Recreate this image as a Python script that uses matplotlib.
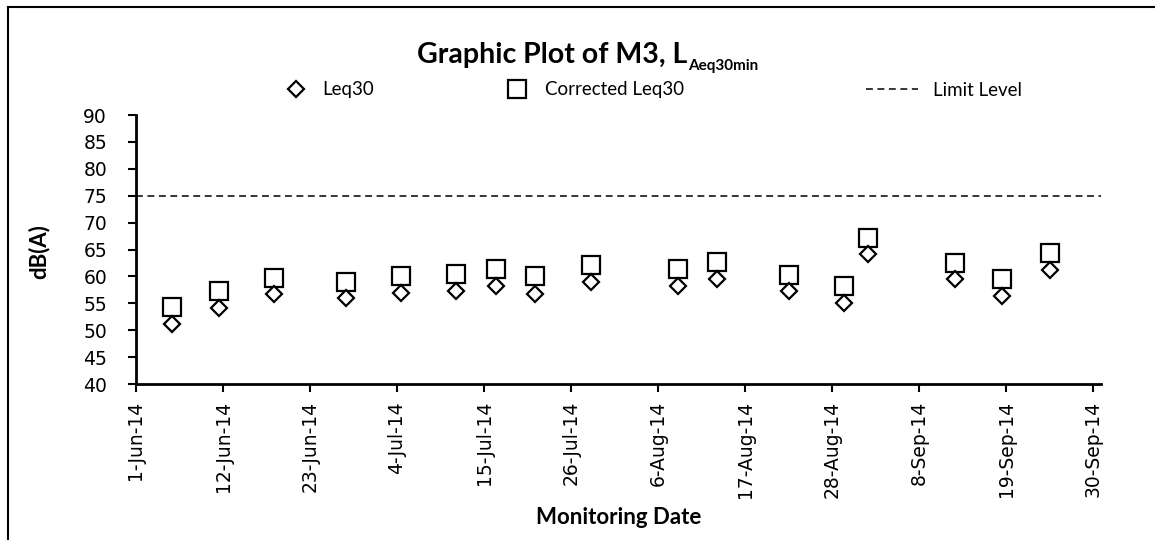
import matplotlib
matplotlib.use('Agg')
import matplotlib.pyplot as plt
import matplotlib.dates as mdates
from matplotlib.ticker import FuncFormatter, FixedLocator
from matplotlib.lines import Line2D
import datetime as dt

# ---------------- data ----------------
dates = ['2014-06-05', '2014-06-11', '2014-06-18', '2014-06-27', '2014-07-04',
         '2014-07-11', '2014-07-16', '2014-07-21', '2014-07-28', '2014-08-08',
         '2014-08-13', '2014-08-22', '2014-08-29', '2014-09-01', '2014-09-12',
         '2014-09-18', '2014-09-24']
leq30 = [51.1, 54.2, 56.7, 55.9, 56.9, 57.2, 58.3, 56.7, 59.0, 58.2,
         59.5, 57.2, 55.1, 64.1, 59.5, 56.4, 61.2]
corrected_leq30 = [54.3, 57.3, 59.7, 59.0, 60.0, 60.4, 61.4, 60.0, 62.2, 61.3,
                   62.6, 60.3, 58.3, 67.1, 62.5, 59.6, 64.3]
limit_level = 75
x_axis_start = '2014-06-01'
x_axis_end = '2014-10-01'
x_tick_step_days = 11
x_tick_count = 12
y_ticks = [40, 45, 50, 55, 60, 65, 70, 75, 80, 85, 90]
series_labels = ['Leq30', 'Corrected Leq30', 'Limit Level']
title_main = 'Graphic Plot of M3, L'
title_sub = 'Aeq30min'
x_label = 'Monitoring Date'
y_label = 'dB(A)'

# ---------------- style ----------------
LABEL_FONT = 'Lato'
TICK_FONT = 'DejaVu Sans'
D_MS, S_MS, MEW = 8.6, 13.0, 1.6
DASH = (0, (4.5, 3.0))

W, H = 1155, 540
fig = plt.figure(figsize=(W / 100, H / 100), dpi=100)

def fx(px):
    return px / W

def fy(py):
    return 1 - py / H

ax_left, ax_right, ax_top, ax_bottom = 136, 1101, 115, 384
ax = fig.add_axes([fx(ax_left), fy(ax_bottom), fx(ax_right - ax_left), (ax_bottom - ax_top) / H])

# Excel "between tick marks": each daily point sits in the middle of its day
x = [dt.datetime.strptime(d, '%Y-%m-%d') + dt.timedelta(hours=12) for d in dates]

ax.axhline(limit_level, color='black', lw=1.1, ls=DASH, zorder=1)
ax.plot(x, corrected_leq30, ls='none', marker='s', ms=S_MS, mfc='none',
        mec='black', mew=MEW, zorder=2, clip_on=False)
ax.plot(x, leq30, ls='none', marker='D', ms=D_MS, mfc='white',
        mec='black', mew=MEW, zorder=3, clip_on=False)

x0 = dt.datetime.strptime(x_axis_start, '%Y-%m-%d')
x1 = dt.datetime.strptime(x_axis_end, '%Y-%m-%d')
ax.set_xlim(x0, x1)
ax.set_ylim(y_ticks[0], y_ticks[-1])
ax.set_yticks(y_ticks)
ticks = [mdates.date2num(x0 + dt.timedelta(days=x_tick_step_days * i)) for i in range(x_tick_count)]
ax.xaxis.set_major_locator(FixedLocator(ticks))

def fmt(v, pos):
    d = mdates.num2date(v)
    return f"{d.day}-{d.strftime('%b')}-{d.strftime('%y')}"

ax.xaxis.set_major_formatter(FuncFormatter(fmt))

for s in ['top', 'right']:
    ax.spines[s].set_visible(False)
for s in ['left', 'bottom']:
    ax.spines[s].set_linewidth(2.0)
    ax.spines[s].set_color('black')

ax.tick_params(axis='both', direction='out', length=5.8, width=1.5, colors='black')
ax.tick_params(axis='y', pad=15, labelsize=13.5)
ax.tick_params(axis='x', pad=6.5, labelsize=13.5, labelrotation=90)
for lab in ax.get_xticklabels() + ax.get_yticklabels():
    lab.set_fontfamily(TICK_FONT)

# ---------------- titles ----------------
renderer = fig.canvas.get_renderer()
t_main = fig.text(0, fy(63), title_main, ha='left', va='baseline', fontsize=20.5,
                  fontweight='bold', family=LABEL_FONT)
t_sub = fig.text(0, fy(70), title_sub, ha='left', va='baseline', fontsize=11,
                 fontweight='bold', family=LABEL_FONT)
w_main = t_main.get_window_extent(renderer).width
w_sub = t_sub.get_window_extent(renderer).width
start = 587 - (w_main + w_sub) / 2
t_main.set_x(fx(start))
t_sub.set_x(fx(start + w_main + 1))

fig.text(fx(39), fy(252), y_label, rotation=90, ha='center', va='center',
         fontsize=16, fontweight='bold', family=LABEL_FONT)
fig.text(fx((ax_left + ax_right) / 2), fy(517), x_label, ha='center', va='center',
         fontsize=16, fontweight='bold', family=LABEL_FONT)

# ---------------- legend (three entries placed like the Excel legend) ----------------
fs = 13.5
fs_px = fs * 100 / 72
leg_y = fy(90)
handles = [
    Line2D([], [], ls='none', marker='D', ms=D_MS, mfc='white', mec='black', mew=MEW),
    Line2D([], [], ls='none', marker='s', ms=S_MS, mfc='none', mec='black', mew=MEW),
    Line2D([], [], color='black', lw=1.1, ls=DASH),
]
specs = [(296, 36, 322), (517, 36, 545), (892, 52, 933)]  # handle centre, handle length, text start (px)
for h, lab, (hc, hl, ts) in zip(handles, series_labels, specs):
    left = hc - hl / 2
    fig.legend([h], [lab], loc='center left', bbox_to_anchor=(fx(left), leg_y),
               frameon=False, borderaxespad=0, borderpad=0,
               handlelength=hl / fs_px, handletextpad=(ts - (left + hl)) / fs_px,
               prop={'family': LABEL_FONT, 'size': fs}, numpoints=1)

# ---------------- outer chart border ----------------
fig.add_artist(Line2D([fx(8), fx(8)], [fy(7), fy(H + 5)], color='black', lw=1.5))
fig.add_artist(Line2D([fx(8), fx(W + 5)], [fy(7), fy(7)], color='black', lw=1.5))

fig.savefig('out.png', dpi=100)
